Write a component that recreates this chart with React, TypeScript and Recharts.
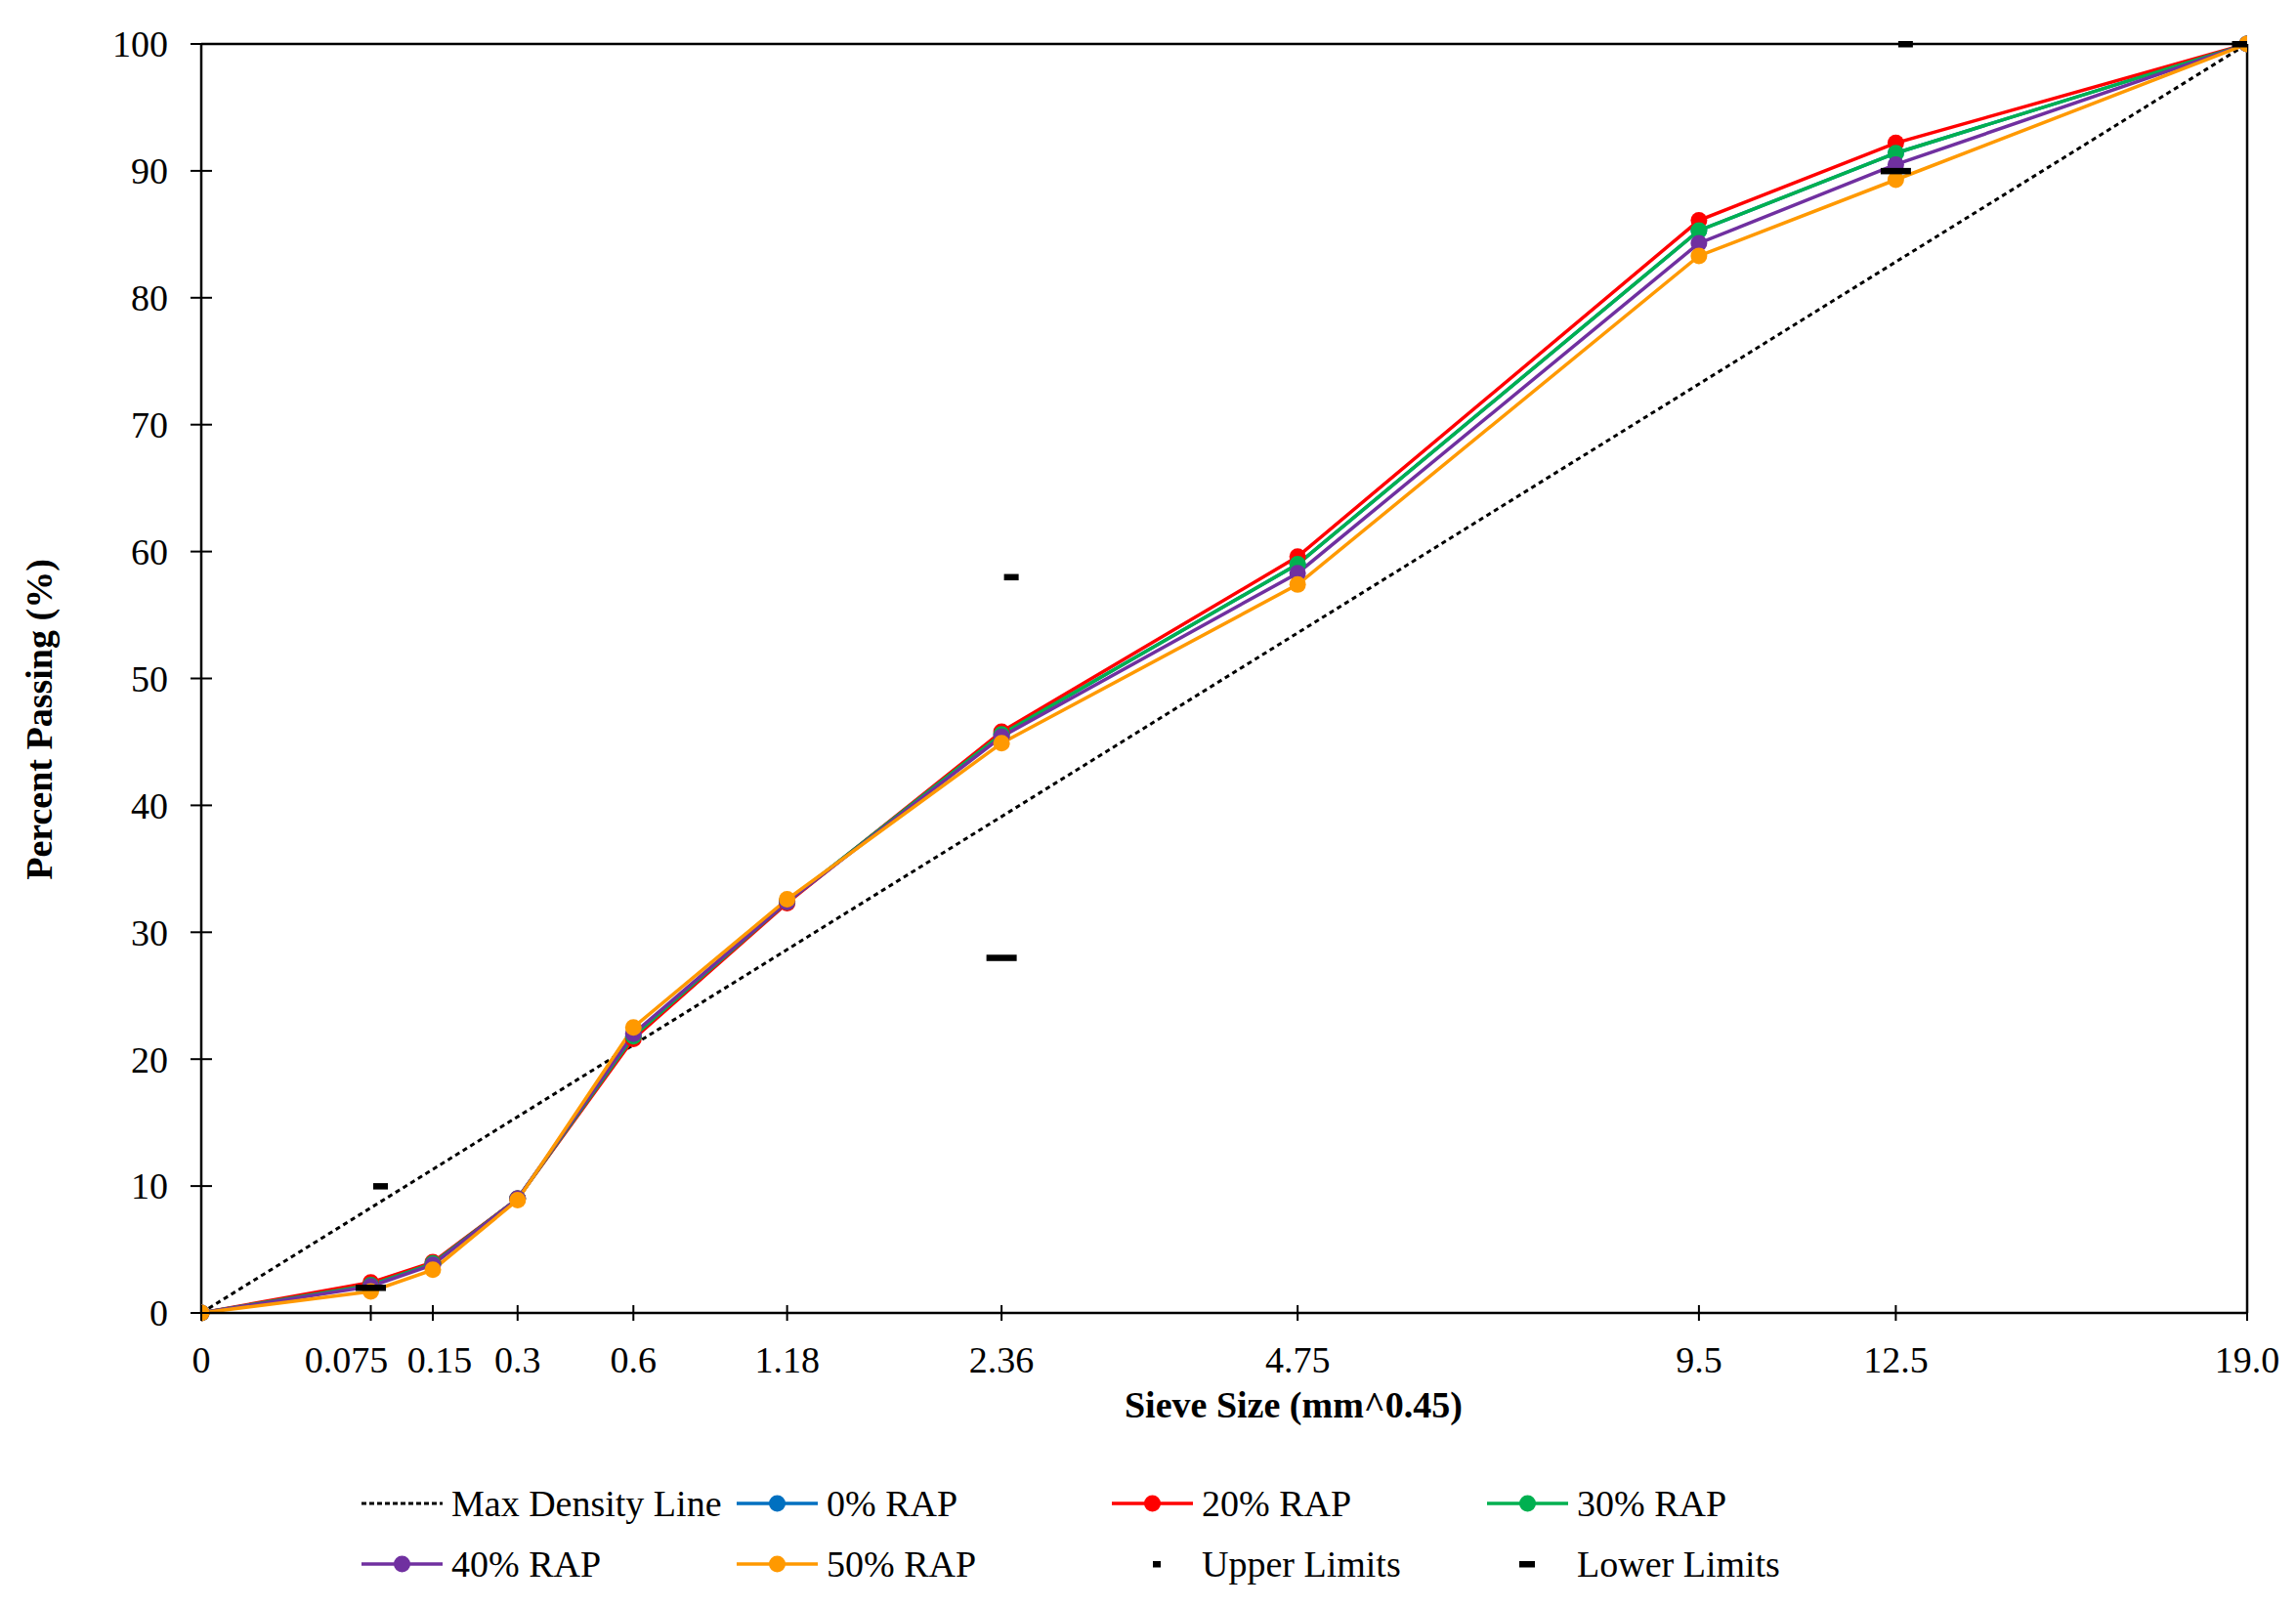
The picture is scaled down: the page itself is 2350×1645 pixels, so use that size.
import React from "react";
import { ComposedChart, Line, Scatter, XAxis, YAxis, ReferenceLine, Label } from "recharts";

// sieve sizes (mm) and the labels printed under them
const sieveSizes = [0, 0.075, 0.15, 0.3, 0.6, 1.18, 2.36, 4.75, 9.5, 12.5, 19.0];
const sieveLabels = ["0", "0.075", "0.15", "0.3", "0.6", "1.18", "2.36", "4.75", "9.5", "12.5", "19.0"];
const yTicks = [0, 10, 20, 30, 40, 50, 60, 70, 80, 90, 100];

// percent passing per blend
const rap0 = [0, 2.2, 3.9, 9.0, 21.8, 32.4, 45.6, 59.0, 85.3, 91.4, 100];
const rap20 = [0, 2.4, 4.0, 9.0, 21.6, 32.3, 45.8, 59.6, 86.1, 92.2, 100];
const rap30 = [0, 2.2, 3.9, 9.0, 21.8, 32.4, 45.6, 59.0, 85.3, 91.4, 100];
const rap40 = [0, 2.1, 3.8, 9.0, 22.0, 32.4, 45.4, 58.3, 84.3, 90.5, 100];
const rap50 = [0, 1.7, 3.4, 8.9, 22.5, 32.6, 44.9, 57.4, 83.3, 89.3, 100];

const maxDensitySizes = [0, 19.0];
const maxDensityValues = [0, 100];

const limitSizes = [0.075, 2.36, 12.5, 19.0];
const upperValues = [10, 58, 100, 100];
const lowerValues = [2, 28, 90, 100];

const EXP = 0.45;
const toX = (s: number) => Math.pow(s, EXP);
const pts = (sizes: number[], vals: number[]) => sizes.map((s, i) => ({ x: toX(s), y: vals[i] }));

const FONT = '"Liberation Serif", "Times New Roman", serif';
const series = [
  { name: "0% RAP", color: "#0070C0", values: rap0 },
  { name: "20% RAP", color: "#FF0000", values: rap20 },
  { name: "30% RAP", color: "#00B050", values: rap30 },
  { name: "40% RAP", color: "#7030A0", values: rap40 },
  { name: "50% RAP", color: "#FF9900", values: rap50 },
];

const labelFor = (v: number) => {
  let best = 0;
  sieveSizes.forEach((s, i) => {
    if (Math.abs(toX(s) - v) < Math.abs(toX(sieveSizes[best]) - v)) best = i;
  });
  return sieveLabels[best];
};

const XTick = (props: any) => {
  const { x, y, payload } = props;
  const label = labelFor(payload.value);
  const dx = label === "0.075" ? -25 : label === "0.15" ? 7 : 0;
  return (
    <g>
      <line x1={x} x2={x} y1={y - 8} y2={y + 8} stroke="#000" strokeWidth={2} />
      <text x={x + dx} y={y + 61} textAnchor="middle" fontFamily={FONT} fontSize={38} fill="#000">
        {label}
      </text>
    </g>
  );
};

const YTick = (props: any) => {
  const { x, y, payload } = props;
  return (
    <g>
      <line x1={x - 11} x2={x + 11} y1={y} y2={y} stroke="#000" strokeWidth={2} />
      <text x={x - 34} y={y} dy="0.35em" textAnchor="end" fontFamily={FONT} fontSize={38} fill="#000">
        {payload.value}
      </text>
    </g>
  );
};

const UpperMark = (p: any) => <rect x={p.cx + 2.5} y={p.cy - 3} width={15} height={6.5} fill="#000" />;
const LowerMark = (p: any) => <rect x={p.cx - 15.5} y={p.cy - 3} width={31} height={6.5} fill="#000" />;

const legendItems = [
  { name: "Max Density Line", kind: "dash" },
  { name: "0% RAP", kind: "line", color: "#0070C0" },
  { name: "20% RAP", kind: "line", color: "#FF0000" },
  { name: "30% RAP", kind: "line", color: "#00B050" },
  { name: "40% RAP", kind: "line", color: "#7030A0" },
  { name: "50% RAP", kind: "line", color: "#FF9900" },
  { name: "Upper Limits", kind: "upper" },
  { name: "Lower Limits", kind: "lower" },
];

function LegendSymbol({ kind, color }: { kind: string; color?: string }) {
  return (
    <svg width={83} height={22} style={{ flex: "none" }}>
      {kind === "dash" && <line x1={0} x2={83} y1={11} y2={11} stroke="#000" strokeWidth={3} strokeDasharray="5 3" />}
      {kind === "line" && (
        <>
          <line x1={0} x2={83} y1={11} y2={11} stroke={color} strokeWidth={3.5} />
          <circle cx={41.5} cy={11} r={8.5} fill={color} />
        </>
      )}
      {kind === "upper" && <rect x={42} y={8} width={8} height={6.5} fill="#000" />}
      {kind === "lower" && <rect x={33} y={8} width={16} height={6.5} fill="#000" />}
    </svg>
  );
}

export default function App() {
  const xMax = toX(19.0);
  return (
    <div style={{ position: "relative", width: 2334, height: 1630, background: "#fff" }}>
      <ComposedChart width={2334} height={1630} margin={{ top: 37, right: 42, left: 0, bottom: 174 }}>
        <XAxis
          type="number"
          dataKey="x"
          domain={[0, xMax]}
          ticks={sieveSizes.map(toX)}
          interval={0}
          tickSize={0}
          tickMargin={0}
          tick={<XTick />}
          axisLine={{ stroke: "#000", strokeWidth: 2.5 }}
          height={120}
          allowDataOverflow
        >
          <Label
            content={(p: any) => {
              const vb = p.viewBox;
              return (
                <text x={vb.x + vb.width / 2 + 71} y={vb.y + 107} textAnchor="middle" fontFamily={FONT} fontSize={38} fontWeight="bold" fill="#000">
                  Sieve Size (mm^0.45)
                </text>
              );
            }}
          />
        </XAxis>
        <YAxis
          type="number"
          dataKey="y"
          domain={[0, 100]}
          ticks={yTicks}
          interval={0}
          tickSize={0}
          tickMargin={0}
          tick={<YTick />}
          axisLine={{ stroke: "#000", strokeWidth: 2.5 }}
          width={198}
        >
          <Label
            content={(p: any) => {
              const vb = p.viewBox;
              const cx = 32;
              const cy = vb.y + vb.height / 2 + 42;
              return (
                <text x={cx} y={cy} transform={`rotate(-90 ${cx} ${cy})`} dy="0.35em" textAnchor="middle" fontFamily={FONT} fontSize={38} fontWeight="bold" fill="#000">
                  Percent Passing (%)
                </text>
              );
            }}
          />
        </YAxis>
        <ReferenceLine y={100} stroke="#000" strokeWidth={2.5} />
        <ReferenceLine x={xMax} stroke="#000" strokeWidth={2.5} />
        <Line
          data={pts(maxDensitySizes, maxDensityValues)}
          dataKey="y"
          type="linear"
          stroke="#000"
          strokeWidth={3}
          strokeDasharray="5 4"
          dot={false}
          isAnimationActive={false}
        />
        {series.map((s) => (
          <Line
            key={s.name}
            data={pts(sieveSizes, s.values)}
            dataKey="y"
            name={s.name}
            type="linear"
            stroke={s.color}
            strokeWidth={3.5}
            dot={{ r: 8.5, fill: s.color, stroke: s.color, strokeWidth: 0 }}
            isAnimationActive={false}
          />
        ))}
        <Scatter data={pts(limitSizes, lowerValues)} dataKey="y" shape={<LowerMark />} isAnimationActive={false} />
        <Scatter data={pts(limitSizes, upperValues)} dataKey="y" shape={<UpperMark />} isAnimationActive={false} />
      </ComposedChart>
      <div
        style={{
          position: "absolute",
          left: 362,
          top: 1500,
          width: 1540,
          display: "flex",
          flexWrap: "wrap",
          fontFamily: FONT,
          fontSize: 38,
          lineHeight: "62px",
          color: "#000",
        }}
      >
        {legendItems.map((it) => (
          <div key={it.name} style={{ width: 384, display: "flex", alignItems: "center", height: 62 }}>
            <LegendSymbol kind={it.kind} color={it.color} />
            <span style={{ marginLeft: 9, whiteSpace: "nowrap" }}>{it.name}</span>
          </div>
        ))}
      </div>
    </div>
  );
}
